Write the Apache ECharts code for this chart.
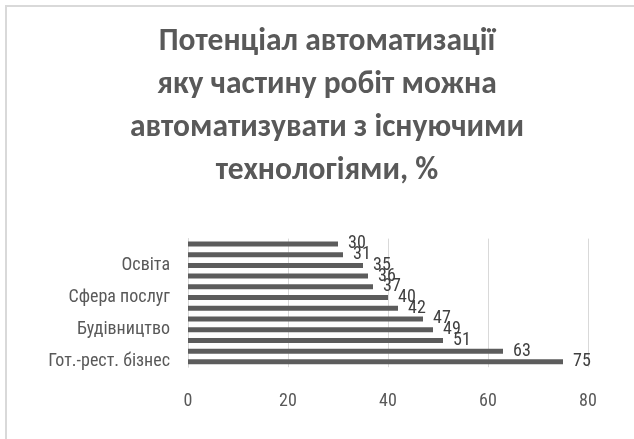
<!DOCTYPE html>
<html>
<head>
<meta charset="utf-8">
<script src="https://cdn.jsdelivr.net/npm/echarts@6/dist/echarts.min.js"></script>
<style>
  html, body { margin: 0; padding: 0; background: #fff; }
  #chart { width: 634px; height: 439px; }
</style>
</head>
<body>
<div id="chart"></div>
<script>
// Sectors, listed bottom to top as they appear on the category axis
const sectors = [
  'Гот.-рест. бізнес',
  'Виробництво',
  'Транспорт і склади',
  'Будівництво',
  'Сільське господарство',
  'Роздрібна торгівля',
  'Сфера послуг',
  'Фінанси і страхування',
  'Оптова торгівля',
  'Освіта',
  'Охорона здоров\u2019я',
  'Інформація'
];

// Share of work that can be automated, %
const automationShare = [75, 63, 51, 49, 47, 42, 40, 37, 36, 35, 31, 30];

// Value axis ticks
const valueMin = 0;
const valueMax = 80;
const valueStep = 20;

const titleLines = [
  'Потенціал автоматизації',
  'яку частину робіт можна',
  'автоматизувати з існуючими',
  'технологіями, %'
];

const narrowFont = '"Roboto Condensed", "DejaVu Sans Condensed", sans-serif';

const chart = echarts.init(document.getElementById('chart'), null, { renderer: 'canvas' });

chart.setOption({
  backgroundColor: '#ffffff',
  animation: false,
  textStyle: { fontFamily: narrowFont },
  title: {
    text: titleLines.join('\n'),
    left: 322,
    top: 15,
    textAlign: 'center',
    textStyle: {
      fontFamily: 'Carlito, "Open Sans", sans-serif',
      fontWeight: 'bold',
      fontSize: 31.5,
      lineHeight: 43.3,
      color: '#595959'
    }
  },
  graphic: [
    {
      // chart-area frame (only top and left edges fall inside the view)
      type: 'rect',
      silent: true,
      shape: { x: 6, y: 6, width: 800, height: 600 },
      style: { fill: null, stroke: '#d9d9d9', lineWidth: 2 }
    }
  ],
  grid: {
    left: 188,
    right: 46,
    top: 238.6,
    bottom: 71.8,
    containLabel: false
  },
  xAxis: {
    type: 'value',
    min: valueMin,
    max: valueMax,
    interval: valueStep,
    axisLine: { show: false },
    axisTick: { show: false },
    axisLabel: {
      margin: 25,
      fontSize: 18,
      color: '#595959',
      fontFamily: narrowFont
    },
    splitLine: { show: true, lineStyle: { color: '#d9d9d9', width: 1 } }
  },
  yAxis: {
    type: 'category',
    data: sectors,
    axisLine: { show: true, lineStyle: { color: '#d9d9d9', width: 1 } },
    axisTick: { show: false },
    axisLabel: {
      interval: 2,
      margin: 18,
      fontSize: 18,
      color: '#595959',
      fontFamily: narrowFont
    }
  },
  series: [
    {
      type: 'bar',
      data: automationShare,
      barWidth: 5,
      itemStyle: { color: '#5c5c5c' },
      label: {
        show: true,
        position: 'right',
        distance: 10,
        fontSize: 18,
        color: '#404040',
        fontFamily: narrowFont
      }
    }
  ]
});
</script>
</body>
</html>
